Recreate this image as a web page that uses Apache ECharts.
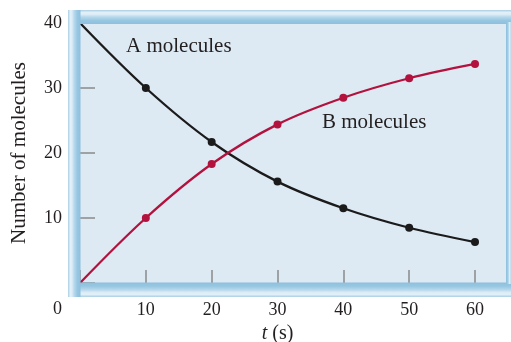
<!DOCTYPE html>
<html>
<head>
<meta charset="utf-8">
<script src="https://cdn.jsdelivr.net/npm/echarts@6/dist/echarts.min.js"></script>
<style>html,body{margin:0;padding:0;background:#fff}#c{width:511px;height:342px}</style>
</head>
<body>
<div id="c"></div>
<script>
const times = [0, 10, 20, 30, 40, 50, 60];
const aMolecules = [40, 30, 21.7, 15.6, 11.5, 8.5, 6.3];
const bMolecules = [0, 10, 18.3, 24.4, 28.5, 31.5, 33.7];
const xTicks = [10, 20, 30, 40, 50, 60];
const yTicks = [10, 20, 30, 40];
const seriesNames = ['A molecules', 'B molecules'];

const FONT = 'Liberation Serif';
const TXT = '#231f20';
const chart = echarts.init(document.getElementById('c'), null, {renderer: 'canvas'});

function band(x, y, w, h, vertical, stops) {
  return {
    type: 'rect', z: 100, silent: true,
    shape: {x: x, y: y, width: w, height: h},
    style: {fill: new echarts.graphic.LinearGradient(0, 0, vertical ? 0 : 1, vertical ? 1 : 0,
      stops.map(s => ({offset: s[0], color: s[1]})))}
  };
}
const outerToInner = [[0, '#a9cfe5'], [0.18, '#e3f0f8'], [0.32, '#dbecf6'], [0.5, '#b5d8ec'], [0.75, '#97c6e1'], [1, '#8dc0de']];
const innerToOuter = outerToInner.slice().reverse().map(s => [1 - s[0], s[1]]);

const option = {
  animation: false,
  grid: {left: 80, right: 36, top: 23, bottom: 59, containLabel: false, outerBoundsMode: 'none'},
  xAxis: {
    type: 'value', min: 0, max: 60, interval: 10,
    axisLine: {show: false},
    splitLine: {show: false},
    axisTick: {show: true, inside: true, length: 13, lineStyle: {color: '#8a8a8a', width: 1.5}},
    axisLabel: {
      margin: 18, fontFamily: FONT, fontSize: 18, color: TXT,
      formatter: v => xTicks.indexOf(v) >= 0 ? String(v) : ''
    },
    name: '{i|t} (s)', nameLocation: 'middle', nameGap: 38,
    nameTextStyle: {fontFamily: FONT, fontSize: 20, color: TXT,
      rich: {i: {fontFamily: FONT, fontSize: 20, fontStyle: 'italic', color: TXT}}}
  },
  yAxis: {
    type: 'value', min: 0, max: 40, interval: 10,
    axisLine: {show: false},
    splitLine: {show: false},
    axisTick: {show: true, inside: true, length: 15, lineStyle: {color: '#8a8a8a', width: 1.5}},
    axisLabel: {
      margin: 18, fontFamily: FONT, fontSize: 18, color: TXT,
      formatter: v => yTicks.indexOf(v) >= 0 ? String(v) : ''
    },
    name: 'Number of molecules', nameLocation: 'middle', nameGap: 50, nameRotate: 90,
    nameTextStyle: {fontFamily: FONT, fontSize: 21, color: TXT}
  },
  series: [
    {
      name: seriesNames[0], type: 'line', smooth: 0.35,
      data: times.map((t, i) => [t, aMolecules[i]]),
      symbol: 'circle', symbolSize: (v, p) => p.dataIndex === 0 ? 0 : 8,
      lineStyle: {color: '#1b1b1b', width: 2.3},
      itemStyle: {color: '#1b1b1b'}
    },
    {
      name: seriesNames[1], type: 'line', smooth: 0.35,
      data: times.map((t, i) => [t, bMolecules[i]]),
      symbol: 'circle', symbolSize: (v, p) => p.dataIndex === 0 ? 0 : 8,
      lineStyle: {color: '#b3123e', width: 2.3},
      itemStyle: {color: '#b3123e'}
    }
  ],
  graphic: [
    {type: 'rect', z: -10, silent: true, shape: {x: 80, y: 23, width: 427, height: 260}, style: {fill: '#dde9f3'}},
    band(68, 10, 443, 14, true, outerToInner),
    band(68, 282.5, 443, 14.5, true, innerToOuter),
    band(68, 10, 12.5, 287, false, outerToInner),
    band(506, 22, 5, 262, false, innerToOuter),
    {type: 'text', z: 101, left: 126, top: 36, style: {text: seriesNames[0], font: '21px "Liberation Serif"', fill: TXT}},
    {type: 'text', z: 101, left: 322, top: 112, style: {text: seriesNames[1], font: '21px "Liberation Serif"', fill: TXT}},
    {type: 'text', z: 101, left: 53, top: 300, style: {text: '0', font: '18px "Liberation Serif"', fill: TXT}}
  ]
};
chart.setOption(option);
</script>
</body>
</html>
